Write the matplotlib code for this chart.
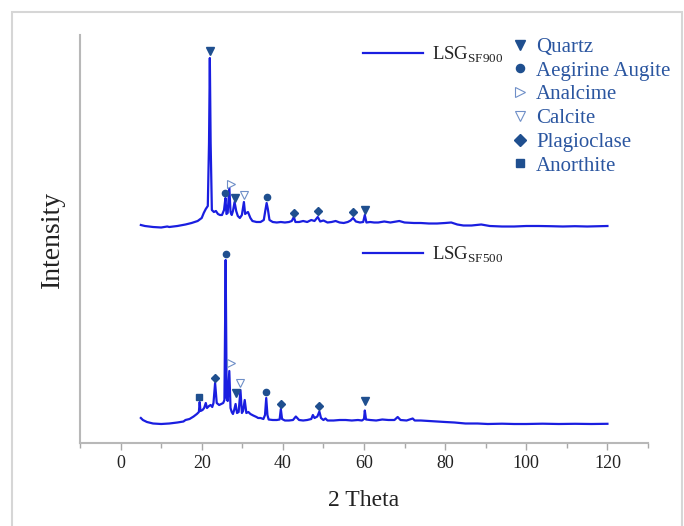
import matplotlib
matplotlib.use('Agg')
import matplotlib.pyplot as plt
from matplotlib.lines import Line2D
from matplotlib.patches import Rectangle

plt.rcParams['font.family'] = ['Liberation Serif', 'DejaVu Serif']
plt.rcParams['mathtext.fontset'] = 'custom'
plt.rcParams['mathtext.rm'] = 'Liberation Serif'

# 2-theta / intensity (arbitrary intensity units)
two_theta_900 = [5.0, 6.0, 8.0, 10.0, 11.5, 12.0, 14.0, 16.0, 17.5, 19.0, 20.0, 20.5, 21.0, 21.5,
                 21.8, 22.0, 22.2, 22.5, 23.0, 23.5, 24.0, 24.5, 25.0, 25.5, 25.85, 26.1, 26.4,
                 26.8, 27.1, 27.4, 27.7, 28.1, 28.5, 28.9, 29.4, 29.9, 30.4, 30.7, 31.0, 31.4,
                 32.0, 32.5, 33.5, 34.5, 35.3, 35.7, 36.0, 36.3, 36.7, 37.5, 38.5, 39.5, 40.5,
                 41.5, 42.2, 42.7, 43.1, 44.0, 45.0, 46.0, 47.0, 47.8, 48.6, 49.2, 50.0, 51.0,
                 52.0, 53.0, 54.0, 55.0, 56.0, 56.7, 57.3, 58.0, 59.0, 59.8, 60.2, 60.6, 61.5,
                 62.5, 63.5, 65.0, 66.5, 68.7, 70.0, 72.3, 74.0, 76.0, 78.0, 80.0, 81.5, 83.0,
                 84.5, 86.5, 88.9, 91.0, 94.0, 97.0, 100.0, 103.0, 106.0, 109.0, 112.0, 115.0,
                 118.0, 120.0]
intensity_900 = [218, 217, 216, 215.5, 216.5, 216, 217, 218.5, 220, 222, 225, 230, 234, 237,
                 300, 385, 300, 233, 231, 232, 229, 228, 228, 233, 245, 229, 230,
                 256, 231, 228, 232, 241, 232, 227, 225, 228, 241, 229, 230, 231,
                 225, 222, 221, 221, 223, 233, 240, 234, 223, 221, 220.5, 221, 220.5,
                 221, 222, 226, 221, 221, 222, 221, 223, 222, 226, 221.5, 222.5, 220.5,
                 221, 222, 220.5, 220, 221, 222.5, 225, 221.5, 220.5, 221, 228, 220.5, 221,
                 220.5, 220.5, 221.5, 220.5, 222, 220.5, 220, 220, 219.5, 219.5, 220, 220.5, 218.5,
                 217.5, 217.5, 218.5, 217, 216.5, 216.5, 217, 217, 216.8, 216.5, 216.8, 216.5,
                 216.8, 217]

two_theta_500 = [5.0, 5.5, 6.5, 8.0, 10.0, 12.0, 14.0, 15.5, 16.0, 17.0, 18.0, 18.8, 19.3, 19.5,
                 19.7, 20.2, 20.6, 21.0, 21.3, 21.8, 22.2, 22.6, 22.9, 23.3, 23.7, 24.3, 24.8,
                 25.3, 25.6, 25.9, 26.15, 26.4, 26.8, 27.1, 27.4, 27.7, 28.0, 28.35, 28.7, 29.1,
                 29.55, 29.9, 30.2, 30.6, 31.0, 31.5, 32.0, 32.7, 33.5, 33.9, 34.5, 35.2, 35.6,
                 35.9, 36.2, 36.5, 37.5, 38.5, 39.2, 39.5, 39.8, 40.5, 41.5, 42.5, 43.2, 44.0,
                 45.0, 46.0, 47.0, 47.4, 47.8, 48.5, 49.0, 49.4, 50.0, 50.5, 51.0, 52.5, 54.0,
                 55.5, 57.0, 58.5, 59.5, 60.0, 60.2, 60.5, 61.5, 63.0, 64.5, 66.0, 67.5, 68.3,
                 69.0, 70.5, 72.0, 72.5, 74.0, 76.0, 78.0, 80.0, 82.3, 85.0, 88.0, 90.5, 94.0,
                 97.0, 100.0, 104.0, 108.0, 112.0, 116.0, 120.0]
intensity_500 = [25, 23, 21, 19.5, 19, 19.5, 20.5, 21.5, 23, 24, 26.5, 29, 31, 41,
                 32, 33, 35, 40, 35, 37, 38, 36, 40, 60, 40, 38, 39,
                 40, 43, 183, 45, 42, 72, 35, 31, 29, 33, 39, 30, 31,
                 53, 30, 32, 43, 30, 31, 29, 27.5, 26, 25, 25, 24, 28,
                 45, 28, 23.5, 23, 23, 23.5, 34, 24, 22.5, 22.5, 23, 26.5, 23,
                 22.5, 23, 24, 28, 25, 26.5, 31.5, 25, 23, 24.5, 22.5, 22.5, 23,
                 23, 22.5, 23, 22.5, 24, 32.5, 23.5, 23, 22.5, 23.5, 23, 23, 26,
                 23, 22.5, 24.5, 22.5, 22.5, 22, 21.5, 21, 20.5, 19.5, 19.5, 19, 19.3,
                 19, 19, 19.3, 19, 19.2, 19, 19.2]

# phase markers above the peaks: (2 theta, height)
phases = ['Quartz', 'Aegirine Augite', 'Analcime', 'Calcite', 'Plagioclase', 'Anorthite']
peaks_900 = {
    'Quartz': ([22.0, 28.1, 60.2], [392, 245, 233]),
    'Aegirine Augite': ([25.85, 36.0], [250, 246]),
    'Analcime': ([27.2], [259]),
    'Calcite': ([30.4], [248]),
    'Plagioclase': ([42.7, 48.6, 57.3], [230, 232, 231]),
    'Anorthite': ([], []),
}
peaks_500 = {
    'Quartz': ([28.35, 60.2], [50, 42]),
    'Aegirine Augite': ([25.9, 35.9], [189, 51]),
    'Analcime': ([27.2], [80]),
    'Calcite': ([29.5], [60]),
    'Plagioclase': ([23.3, 39.5, 49.0], [65, 39, 37]),
    'Anorthite': ([19.3], [46]),
}

line_col = '#1a1ee0'
mark_col = '#1f4f8f'
open_col = '#6f8fc8'
text_col = '#2b56a0'
styles = {
    'Quartz': dict(marker='v', ms=5.5, color=mark_col),
    'Aegirine Augite': dict(marker='o', ms=4.5, color=mark_col),
    'Analcime': dict(marker='>', ms=6, mfc='white', mec=open_col, mew=0.8),
    'Calcite': dict(marker='v', ms=6, mfc='white', mec=open_col, mew=0.8),
    'Plagioclase': dict(marker='D', ms=4.5, color=mark_col),
    'Anorthite': dict(marker='s', ms=4.5, color=mark_col),
}

fig = plt.figure(figsize=(6.84, 5.26), dpi=100)
fig.patches.append(Rectangle((12 / 684, -0.05), 670 / 684, 1.05 - 12 / 526, transform=fig.transFigure,
                             fill=False, edgecolor='#d6d6d6', lw=1.5))
ax = fig.add_axes([80 / 684, 83 / 526, 568 / 684, 408 / 526])

l900, = ax.plot(two_theta_900, intensity_900, color=line_col, lw=1.6)
l500, = ax.plot(two_theta_500, intensity_500, color=line_col, lw=1.6)

for name in phases:
    for pk in (peaks_900, peaks_500):
        xs, ys = pk[name]
        if len(xs):
            ax.plot(xs, ys, ls='none', **styles[name])

ax.set_xlim(-10, 130)
ax.set_ylim(0, 408)
ax.set_xticks(range(0, 121, 20))
ax.set_xticks(range(-10, 131, 10), minor=True)
ax.set_yticks([])
for s in ['top', 'right']:
    ax.spines[s].set_visible(False)
for s in ['left', 'bottom']:
    ax.spines[s].set_color('#b8b8b8')
    ax.spines[s].set_linewidth(1.5)
ax.tick_params(axis='x', which='major', length=5, width=1, color='#a8a8a8',
               labelsize=13, labelcolor='#222222', pad=4)
ax.tick_params(axis='x', which='minor', length=3.5, width=1, color='#a8a8a8')

ax.set_xlabel('2 Theta', fontsize=17, color='#222222')
ax.set_ylabel('Intensity', fontsize=20, color='#222222')
ax.xaxis.set_label_coords(0.5, -0.115)
ax.yaxis.set_label_coords(-0.027, 0.5)

leg1 = ax.legend([l900], [r'LSG$_{\mathrm{SF900}}$'], loc='upper left', bbox_to_anchor=(0.469, 1.017),
                 frameon=False, fontsize=13.5, handlelength=3.2, handletextpad=0.45)
for t in leg1.get_texts():
    t.set_color('#222222')
ax.add_artist(leg1)
leg2 = ax.legend([l500], [r'LSG$_{\mathrm{SF500}}$'], loc='upper left', bbox_to_anchor=(0.469, 0.528),
                 frameon=False, fontsize=13.5, handlelength=3.2, handletextpad=0.45)
for t in leg2.get_texts():
    t.set_color('#222222')
ax.add_artist(leg2)

handles = []
for name in phases:
    st = dict(styles[name])
    st['ms'] = st['ms'] * 1.3
    handles.append(Line2D([], [], ls='none', **st))
leg3 = ax.legend(handles, phases, loc='upper left', bbox_to_anchor=(0.746, 1.015), frameon=False,
                 fontsize=15, handlelength=0.8, handletextpad=0.35, labelspacing=0.2,
                 borderaxespad=0)
for t in leg3.get_texts():
    t.set_color(text_col)

fig.savefig('out.png', dpi=100)
